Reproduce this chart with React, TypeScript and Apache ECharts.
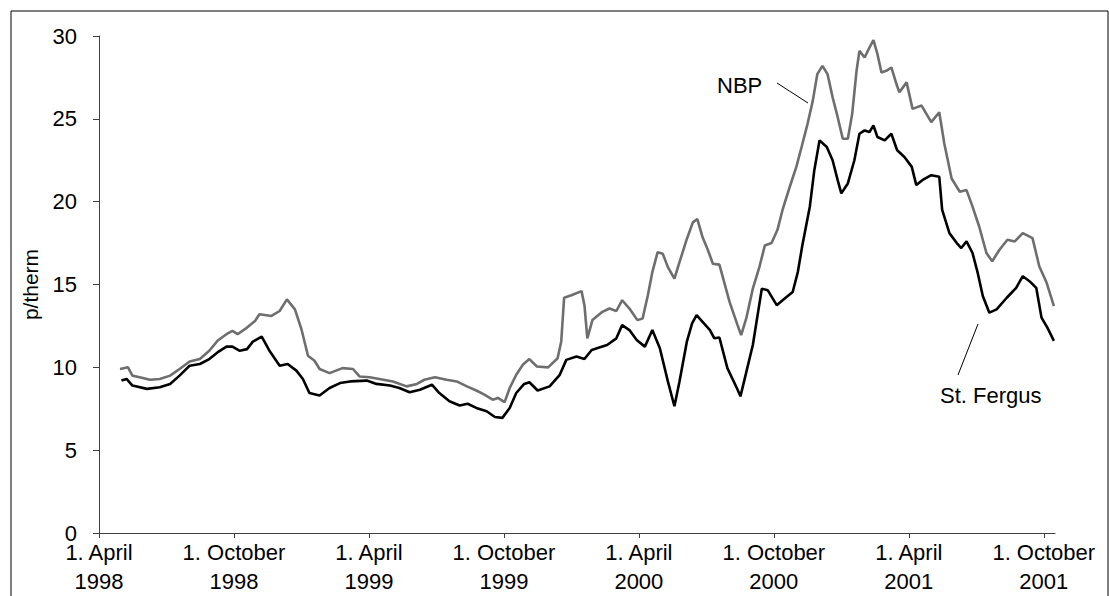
import React, { useEffect, useRef } from "react";
import * as echarts from "echarts";

const xTickLabels = [
  "1. April\n1998",
  "1. October\n1998",
  "1. April\n1999",
  "1. October\n1999",
  "1. April\n2000",
  "1. October\n2000",
  "1. April\n2001",
  "1. October\n2001",
];
const xTickMonths = [0, 6, 12, 18, 24, 30, 36, 42];

const nbpDates = [
  "1998-04-29", "1998-05-10", "1998-05-16", "1998-05-26", "1998-06-09", "1998-06-22", "1998-07-06", "1998-07-19",
  "1998-08-02", "1998-08-16", "1998-08-29", "1998-09-09", "1998-09-21", "1998-09-29", "1998-10-06", "1998-10-19",
  "1998-10-30", "1998-11-05", "1998-11-21", "1998-12-02", "1998-12-12", "1998-12-23", "1999-01-01", "1999-01-10",
  "1999-01-19", "1999-01-26", "1999-02-08", "1999-02-24", "1999-03-10", "1999-03-19", "1999-04-02", "1999-04-15",
  "1999-05-03", "1999-05-22", "1999-06-05", "1999-06-15", "1999-06-29", "1999-07-15", "1999-07-29", "1999-08-12",
  "1999-08-25", "1999-09-05", "1999-09-16", "1999-09-23", "1999-10-02", "1999-10-09", "1999-10-18", "1999-10-27",
  "1999-11-05", "1999-11-15", "1999-11-30", "1999-12-13", "1999-12-18", "1999-12-22", "2000-01-01", "2000-01-15",
  "2000-01-19", "2000-01-23", "2000-01-30", "2000-02-12", "2000-02-21", "2000-03-01", "2000-03-09", "2000-03-19",
  "2000-03-30", "2000-04-06", "2000-04-13", "2000-04-19", "2000-04-26", "2000-05-03", "2000-05-10", "2000-05-19",
  "2000-05-26", "2000-06-05", "2000-06-13", "2000-06-19", "2000-06-26", "2000-07-03", "2000-07-10", "2000-07-19",
  "2000-08-02", "2000-08-13", "2000-08-18", "2000-08-25", "2000-09-03", "2000-09-12", "2000-09-19", "2000-09-28",
  "2000-10-06", "2000-10-13", "2000-10-23", "2000-11-01", "2000-11-08", "2000-11-16", "2000-11-23", "2000-11-29",
  "2000-12-06", "2000-12-13", "2000-12-20", "2000-12-27", "2001-01-03", "2001-01-10", "2001-01-16", "2001-01-22",
  "2001-01-26", "2001-02-02", "2001-02-08", "2001-02-13", "2001-02-18", "2001-02-23", "2001-03-01", "2001-03-08",
  "2001-03-15", "2001-03-19", "2001-03-29", "2001-04-06", "2001-04-18", "2001-05-01", "2001-05-12", "2001-05-19",
  "2001-05-29", "2001-06-09", "2001-06-18", "2001-06-26", "2001-07-05", "2001-07-15", "2001-07-23", "2001-08-02",
  "2001-08-13", "2001-08-23", "2001-09-03", "2001-09-16", "2001-09-25", "2001-10-05", "2001-10-15",
];
const nbpValues = [
  9.9, 10.0, 9.5, 9.4, 9.25, 9.3, 9.5, 9.9,
  10.35, 10.5, 11.0, 11.6, 12.0, 12.2, 12.0, 12.4,
  12.8, 13.2, 13.1, 13.4, 14.1, 13.5, 12.3, 10.7,
  10.4, 9.9, 9.65, 9.95, 9.9, 9.45, 9.4, 9.3,
  9.15, 8.85, 9.0, 9.25, 9.4, 9.25, 9.15, 8.85,
  8.6, 8.35, 8.05, 8.15, 7.9, 8.75, 9.55, 10.15,
  10.5, 10.05, 10.0, 10.55, 11.55, 14.2, 14.35, 14.6,
  13.75, 11.75, 12.85, 13.35, 13.55, 13.4, 14.05, 13.55,
  12.85, 12.95, 14.35, 15.75, 16.95, 16.85, 16.05, 15.35,
  16.35, 17.75, 18.75, 18.95, 17.85, 17.1, 16.25, 16.2,
  13.95, 12.55, 11.95, 12.95, 14.75, 16.1, 17.35, 17.5,
  18.3, 19.5, 20.9, 22.1, 23.3, 24.7, 26.1, 27.7,
  28.2, 27.7, 26.3, 25.1, 23.8, 23.8, 25.3, 27.9,
  29.1, 28.7, 29.3, 29.75, 28.9, 27.8, 27.9, 28.1,
  27.1, 26.6, 27.2, 25.6, 25.8, 24.8, 25.4, 23.5,
  21.4, 20.6, 20.7, 19.7, 18.5, 16.9, 16.4, 17.1,
  17.7, 17.6, 18.1, 17.8, 16.1, 15.1, 13.7,
];

const fergusDates = [
  "1998-05-01", "1998-05-08", "1998-05-16", "1998-06-05", "1998-06-22", "1998-07-06", "1998-07-19", "1998-08-02",
  "1998-08-16", "1998-08-29", "1998-09-09", "1998-09-21", "1998-09-29", "1998-10-09", "1998-10-19", "1998-10-27",
  "1998-11-08", "1998-11-19", "1998-12-02", "1998-12-13", "1998-12-25", "1999-01-03", "1999-01-12", "1999-01-26",
  "1999-02-08", "1999-02-21", "1999-03-06", "1999-03-29", "1999-04-11", "1999-04-29", "1999-05-12", "1999-05-26",
  "1999-06-09", "1999-06-25", "1999-07-05", "1999-07-19", "1999-08-02", "1999-08-13", "1999-08-25", "1999-09-08",
  "1999-09-19", "1999-09-29", "1999-10-09", "1999-10-18", "1999-10-29", "1999-11-05", "1999-11-16", "1999-12-02",
  "1999-12-16", "1999-12-25", "2000-01-08", "2000-01-19", "2000-01-29", "2000-02-08", "2000-02-18", "2000-03-01",
  "2000-03-09", "2000-03-19", "2000-03-29", "2000-04-09", "2000-04-19", "2000-04-29", "2000-05-10", "2000-05-19",
  "2000-05-26", "2000-06-05", "2000-06-12", "2000-06-18", "2000-06-26", "2000-07-06", "2000-07-12", "2000-07-19",
  "2000-07-30", "2000-08-12", "2000-08-17", "2000-08-22", "2000-09-03", "2000-09-15", "2000-09-23", "2000-10-05",
  "2000-10-16", "2000-10-27", "2000-11-03", "2000-11-09", "2000-11-19", "2000-11-25", "2000-12-02", "2000-12-12",
  "2000-12-20", "2000-12-27", "2001-01-01", "2001-01-10", "2001-01-19", "2001-01-26", "2001-02-02", "2001-02-08",
  "2001-02-13", "2001-02-18", "2001-02-27", "2001-03-08", "2001-03-16", "2001-03-26", "2001-04-05", "2001-04-11",
  "2001-04-19", "2001-05-01", "2001-05-12", "2001-05-16", "2001-05-26", "2001-06-05", "2001-06-11", "2001-06-18",
  "2001-06-26", "2001-07-03", "2001-07-10", "2001-07-19", "2001-07-29", "2001-08-12", "2001-08-25", "2001-09-03",
  "2001-09-12", "2001-09-21", "2001-09-28", "2001-10-06", "2001-10-15",
];
const fergusValues = [
  9.2, 9.3, 8.9, 8.7, 8.8, 9.0, 9.5, 10.1,
  10.2, 10.5, 10.9, 11.25, 11.25, 11.0, 11.1, 11.55,
  11.85, 10.95, 10.1, 10.2, 9.8, 9.3, 8.45, 8.3,
  8.75, 9.05, 9.15, 9.2, 9.0, 8.9, 8.75, 8.5,
  8.65, 8.95, 8.45, 7.95, 7.7, 7.8, 7.55, 7.35,
  7.0, 6.95, 7.55, 8.45, 9.0, 9.1, 8.6, 8.85,
  9.55, 10.45, 10.65, 10.5, 11.05, 11.2, 11.35, 11.75,
  12.55, 12.25, 11.65, 11.25, 12.25, 11.15, 9.15, 7.65,
  9.15, 11.55, 12.65, 13.15, 12.75, 12.25, 11.75, 11.8,
  9.95, 8.75, 8.25, 9.15, 11.35, 14.75, 14.65, 13.75,
  14.15, 14.55, 15.75, 17.35, 19.7, 21.9, 23.7, 23.3,
  22.5, 21.3, 20.5, 21.1, 22.5, 24.1, 24.3, 24.2,
  24.6, 23.9, 23.7, 24.1, 23.1, 22.7, 22.1, 21.0,
  21.3, 21.6, 21.5, 19.5, 18.1, 17.5, 17.2, 17.6,
  16.9, 15.7, 14.3, 13.3, 13.5, 14.2, 14.8, 15.5,
  15.2, 14.8, 13.0, 12.4, 11.6,
];

function monthsSinceStart(d: string): number {
  const [y, m, day] = d.split("-").map(Number);
  const dim = new Date(y, m, 0).getDate();
  return (y - 1998) * 12 + (m - 4) + (day - 1) / dim;
}

function pairs(dates: string[], values: number[]): number[][] {
  return dates.map((d, i) => [monthsSinceStart(d), values[i]]);
}

const FONT = "'Liberation Sans', Arial, sans-serif";

export default function App() {
  const ref = useRef<HTMLDivElement>(null);
  useEffect(() => {
    document.body.style.margin = "0";
    if (!ref.current) return;
    const chart = echarts.init(ref.current, undefined, { renderer: "svg" });
    chart.setOption({
      animation: false,
      backgroundColor: "#ffffff",
      grid: { left: 99, right: 54, top: 36, bottom: 61, containLabel: false },
      xAxis: {
        type: "value",
        min: 0,
        max: 42.5,
        interval: 6,
        splitLine: { show: false },
        axisLine: { show: true, lineStyle: { color: "#404040", width: 1 } },
        axisTick: { show: true, length: 5, customValues: xTickMonths, lineStyle: { color: "#404040" } },
        axisLabel: {
          customValues: xTickMonths,
          formatter: (v: number) => {
            const i = xTickMonths.indexOf(Math.round(v));
            return i >= 0 ? xTickLabels[i] : "";
          },
          fontFamily: FONT,
          fontSize: 22,
          lineHeight: 29,
          color: "#000",
          margin: 5,
        },
      },
      yAxis: {
        type: "value",
        min: 0,
        max: 30,
        interval: 5,
        name: "p/therm",
        nameLocation: "middle",
        nameRotate: 90,
        nameGap: 58,
        nameTextStyle: { fontFamily: FONT, fontSize: 21, color: "#000" },
        splitLine: { show: false },
        axisLine: { show: true, lineStyle: { color: "#404040", width: 1 } },
        axisTick: { show: true, length: 6, lineStyle: { color: "#404040" } },
        axisLabel: { fontFamily: FONT, fontSize: 22, color: "#000", margin: 22 },
      },
      series: [
        {
          name: "NBP",
          type: "line",
          data: pairs(nbpDates, nbpValues),
          showSymbol: false,
          lineStyle: { color: "#6e6e6e", width: 2.6 },
          z: 2,
        },
        {
          name: "St. Fergus",
          type: "line",
          data: pairs(fergusDates, fergusValues),
          showSymbol: false,
          lineStyle: { color: "#000000", width: 2.6 },
          z: 3,
        },
      ],
      graphic: [
        {
          type: "rect",
          shape: { x: 11, y: 11, width: 1097, height: 600 },
          style: { fill: "none", stroke: "#000", lineWidth: 1 },
          silent: true,
        },
        {
          type: "text",
          x: 717,
          y: 85,
          style: { text: "NBP", font: `22px ${FONT}`, fill: "#000", verticalAlign: "middle" },
        },
        {
          type: "line",
          shape: { x1: 777, y1: 83, x2: 808, y2: 103 },
          style: { stroke: "#000", lineWidth: 1 },
        },
        {
          type: "text",
          x: 940,
          y: 395,
          style: { text: "St. Fergus", font: `22px ${FONT}`, fill: "#000", verticalAlign: "middle" },
        },
        {
          type: "line",
          shape: { x1: 978, y1: 324, x2: 958, y2: 375 },
          style: { stroke: "#000", lineWidth: 1 },
        },
      ],
    });
    return () => chart.dispose();
  }, []);
  return <div ref={ref} style={{ width: 1109, height: 596 }} />;
}
